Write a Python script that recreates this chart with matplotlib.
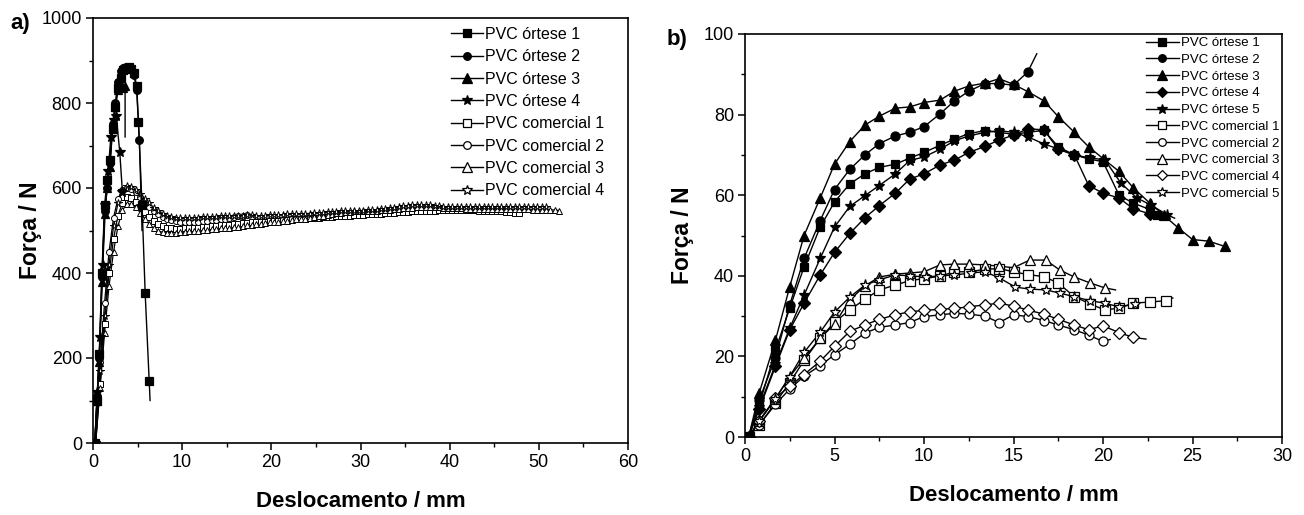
import numpy as np
import matplotlib
matplotlib.use("Agg")
import matplotlib.pyplot as plt
from matplotlib.lines import Line2D
from matplotlib.ticker import MultipleLocator

plt.rcParams['font.family'] = ['Liberation Sans', 'DejaVu Sans']

# ---------------- Panel a data ----------------
a_labels = ["PVC órtese 1", "PVC órtese 2", "PVC órtese 3", "PVC órtese 4",
            "PVC comercial 1", "PVC comercial 2", "PVC comercial 3", "PVC comercial 4"]

a_ort1_x = [0.2, 0.45, 0.7, 1.0, 1.3, 1.6, 1.9, 2.2, 2.5, 2.8, 3.1, 3.4, 3.7, 4.0, 4.3, 4.6, 4.9, 5.1, 5.5, 5.85, 6.3, 6.4]
a_ort1_y = [0, 100, 210, 400, 560, 620, 665, 740, 790, 835, 860, 878, 883, 884, 880, 870, 840, 755, 560, 353, 147, 100]
a_ort2_x = [0.2, 0.45, 0.7, 1.0, 1.3, 1.6, 1.9, 2.2, 2.5, 2.8, 3.1, 3.4, 3.7, 4.0, 4.3, 4.6, 4.9, 5.2, 5.5]
a_ort2_y = [0, 110, 200, 390, 545, 600, 660, 750, 800, 850, 875, 882, 885, 885, 880, 865, 830, 712, 500]
a_ort3_x = [0.2, 0.45, 0.7, 1.0, 1.3, 1.6, 1.9, 2.2, 2.5, 2.8, 3.1, 3.4, 3.6, 3.6]
a_ort3_y = [0, 100, 190, 380, 540, 600, 650, 740, 790, 830, 845, 835, 840, 720]
a_ort4_x = [0.2, 0.5, 0.8, 1.1, 1.4, 1.7, 2.0, 2.3, 2.6, 3.0, 3.3]
a_ort4_y = [0, 120, 250, 420, 560, 640, 720, 760, 770, 685, 590]

# commercial samples: first x and sampling interval (mm)
a_com_x0 = 0.3
a_com_dx = 0.5
a_com1_y = [0, 140, 280, 400, 480, 535, 565, 578, 577, 568,
            556, 543, 532, 522, 515, 510, 507, 505, 504, 504,
            505, 505, 506, 507, 508, 509, 510, 511, 512, 513,
            514, 515, 516, 517, 518, 519, 520, 520, 521, 522,
            523, 523, 524, 525, 526, 526, 527, 528, 529, 529,
            530, 531, 532, 532, 533, 534, 535, 535, 536, 537,
            537, 538, 539, 539, 540, 541, 541, 542, 543, 543,
            544, 545, 545, 546, 546, 547, 547, 548, 548, 548,
            549, 549, 549, 548, 548, 548, 547, 547, 546, 546,
            545, 545, 544, 543, 542, 541]
a_com2_y = [0, 190, 330, 450, 530, 575, 595, 600, 597, 590,
            579, 567, 556, 546, 538, 532, 527, 524, 522, 521,
            520, 520, 521, 521, 522, 523, 524, 525, 526, 528,
            529, 531, 533, 535, 537]
a_com3_y = [0, 130, 260, 370, 450, 510, 548, 562, 562, 555,
            542, 528, 515, 505, 499, 496, 495, 495, 495, 496,
            497, 498, 499, 500, 501, 502, 503, 504, 505, 506,
            507, 508, 509, 510, 512, 513, 515, 516, 518, 519,
            520, 521, 522, 523, 525, 526, 527, 528, 530, 531,
            533, 535, 537, 539, 541, 542, 543, 544, 545, 545,
            546, 546, 547, 547, 548, 548, 549, 550, 551, 552,
            553, 554, 555, 556, 556, 556, 555, 555, 554, 553,
            553, 552, 552, 551, 551, 551, 550, 550, 550, 550,
            550, 550, 550, 550, 550, 550, 550, 550, 549, 549,
            549, 549, 549, 548, 547]
a_com4_y = [0, 170, 300, 420, 510, 565, 595, 605, 603, 596,
            586, 575, 564, 554, 546, 540, 535, 532, 530, 529,
            529, 529, 530, 530, 531, 531, 532, 532, 533, 533,
            534, 534, 535, 535, 536, 536, 535, 535, 535, 536,
            536, 537, 537, 538, 538, 539, 539, 540, 540, 541,
            541, 542, 543, 543, 544, 545, 545, 546, 546, 547,
            547, 548, 548, 549, 550, 551, 552, 553, 555, 557,
            558, 559, 560, 560, 560, 559, 558, 557, 556, 556,
            555, 555, 555, 555, 555, 555, 555, 555, 555, 555,
            555, 555, 555, 555, 555, 555, 555, 555, 555, 555,
            555, 555]

# ---------------- Panel b data ----------------
b_labels = ["PVC órtese 1", "PVC órtese 2", "PVC órtese 3", "PVC órtese 4", "PVC órtese 5",
            "PVC comercial 1", "PVC comercial 2", "PVC comercial 3", "PVC comercial 4", "PVC comercial 5"]

b_ort1_x = [0.2, 0.8, 1.7, 2.5, 3.3, 4.2, 5.0, 5.85, 6.7, 7.5, 8.4, 9.2, 10.0, 10.9, 11.7, 12.5, 13.4, 14.2, 15.0, 15.8, 16.7, 17.5, 18.4, 19.2, 20.0, 20.9, 21.7, 22.6, 23.0]
b_ort1_y = [0, 8, 21.5, 32, 42.2, 52.1, 58.3, 62.8, 65.3, 66.9, 67.7, 69.2, 70.6, 72.4, 73.9, 75.3, 76.0, 75.6, 75.1, 75.6, 76.1, 72.0, 70.0, 69.0, 68.3, 60.0, 58.0, 56.5, 55.0]
b_ort2_x = [0.2, 0.8, 1.7, 2.5, 3.3, 4.2, 5.0, 5.85, 6.7, 7.5, 8.4, 9.2, 10.0, 10.9, 11.7, 12.5, 13.4, 14.2, 15.0, 15.8, 16.3]
b_ort2_y = [0, 9.3, 19.6, 32.8, 44.3, 53.7, 61.4, 66.4, 70.0, 72.8, 74.7, 75.6, 77.0, 80.2, 83.4, 85.8, 87.7, 87.7, 87.3, 90.6, 95.1]
b_ort3_x = [0.2, 0.8, 1.7, 2.5, 3.3, 4.2, 5.0, 5.85, 6.7, 7.5, 8.4, 9.2, 10.0, 10.9, 11.7, 12.5, 13.4, 14.2, 15.0, 15.8, 16.7, 17.5, 18.4, 19.2, 20.0, 20.9, 21.7, 22.6, 23.4, 24.2, 25.0, 25.9, 26.8]
b_ort3_y = [0, 11, 24, 37.3, 50.0, 59.3, 67.7, 73.3, 77.4, 79.6, 81.6, 81.9, 83.0, 83.6, 85.8, 87.1, 87.8, 88.9, 87.5, 85.7, 83.4, 79.5, 75.6, 72.0, 69.1, 65.9, 61.8, 58.1, 55.0, 51.9, 49.0, 48.6, 47.3]
b_ort4_x = [0.2, 0.8, 1.7, 2.5, 3.3, 4.2, 5.0, 5.85, 6.7, 7.5, 8.4, 9.2, 10.0, 10.9, 11.7, 12.5, 13.4, 14.2, 15.0, 15.8, 16.7, 17.5, 18.4, 19.2, 20.0, 20.9, 21.7, 22.6]
b_ort4_y = [0, 7, 17.5, 26.6, 33.2, 40.2, 45.8, 50.5, 54.4, 57.4, 60.5, 64.0, 65.3, 67.5, 68.7, 70.6, 72.1, 73.7, 74.9, 76.5, 76.2, 71.4, 70.0, 62.4, 60.5, 59.3, 56.6, 55.4]
b_ort5_x = [0.2, 0.8, 1.7, 2.5, 3.3, 4.2, 5.0, 5.85, 6.7, 7.5, 8.4, 9.2, 10.0, 10.9, 11.7, 12.5, 13.4, 14.2, 15.0, 15.8, 16.7, 17.5, 18.4, 19.3, 20.1, 21.0, 21.9, 22.7, 23.6, 24.0]
b_ort5_y = [0, 7.5, 18, 27, 35.2, 44.3, 52.1, 57.2, 59.9, 62.4, 65.3, 68.6, 69.5, 71.4, 73.5, 74.7, 75.6, 76.0, 75.6, 74.5, 72.7, 71.5, 70.0, 69.2, 68.8, 63.0, 59.3, 57.5, 55.1, 54.3]

b_com1_x = [0.2, 0.8, 1.7, 2.5, 3.3, 4.2, 5.0, 5.85, 6.7, 7.5, 8.4, 9.2, 10.0, 10.9, 11.7, 12.5, 13.4, 14.2, 15.0, 15.8, 16.7, 17.5, 18.4, 19.3, 20.1, 20.9, 21.7, 22.6, 23.5, 23.9]
b_com1_y = [0, 3, 8.5, 13.5, 19, 24.5, 28.5, 31.5, 34.2, 36.5, 37.7, 38.8, 39.3, 39.9, 41.0, 41.0, 41.6, 41.8, 41.0, 40.3, 39.8, 38.2, 34.8, 33.0, 31.5, 32.0, 33.2, 33.5, 33.8, 34.5]
b_com2_x = [0.2, 0.8, 1.7, 2.5, 3.3, 4.2, 5.0, 5.85, 6.7, 7.5, 8.4, 9.2, 10.0, 10.9, 11.7, 12.5, 13.4, 14.2, 15.0, 15.8, 16.7, 17.5, 18.4, 19.2, 20.0, 20.4]
b_com2_y = [0, 3.1, 8.1, 11.9, 15.1, 17.7, 20.4, 23.0, 25.8, 27.2, 27.8, 28.4, 29.9, 30.3, 30.7, 30.5, 30.0, 28.4, 30.3, 29.9, 28.9, 27.8, 26.6, 25.3, 23.7, 24.2]
b_com3_x = [0.2, 0.8, 1.7, 2.5, 3.3, 4.2, 5.0, 5.85, 6.7, 7.5, 8.4, 9.2, 10.0, 10.9, 11.7, 12.5, 13.4, 14.2, 15.0, 15.9, 16.8, 17.6, 18.4, 19.3, 20.1, 20.7]
b_com3_y = [0, 4, 9.5, 15, 19.5, 24.5, 28, 34, 37.5, 39.7, 40.4, 40.7, 41.0, 42.7, 42.9, 42.9, 42.7, 42.4, 42.0, 43.9, 43.9, 41.4, 39.7, 38.2, 37.0, 36.5]
b_com4_x = [0.2, 0.8, 1.7, 2.5, 3.3, 4.2, 5.0, 5.85, 6.7, 7.5, 8.4, 9.2, 10.0, 10.9, 11.7, 12.5, 13.4, 14.2, 15.0, 15.8, 16.7, 17.5, 18.4, 19.2, 20.0, 20.9, 21.7, 22.4]
b_com4_y = [0, 4, 9.7, 12.6, 15.5, 18.8, 22.5, 26.2, 27.8, 29.2, 30.3, 31.1, 31.4, 31.7, 31.9, 32.3, 32.8, 33.2, 32.5, 31.5, 30.5, 29.2, 27.8, 26.6, 27.6, 25.9, 24.7, 24.3]
b_com5_x = [0.2, 0.8, 1.7, 2.5, 3.3, 4.2, 5.0, 5.85, 6.7, 7.5, 8.4, 9.2, 10.1, 10.9, 11.7, 12.6, 13.4, 14.2, 15.1, 15.9, 16.8, 17.6, 18.4, 19.3, 20.1, 20.9, 21.8]
b_com5_y = [0, 4, 9.5, 15, 21, 26, 31, 34.7, 37.7, 39.0, 40.2, 40.0, 39.7, 40.0, 40.2, 40.7, 41.0, 39.5, 37.2, 36.7, 36.5, 35.7, 34.8, 33.8, 33.2, 32.3, 33.0]

# ---------------- drawing helpers ----------------
def draw(ax, x, y, marker, filled, ms, tail=False, mew=0.9, lw=1.0, z=2):
    x = np.asarray(x, float)
    y = np.asarray(y, float)
    ax.plot(x, y, color='black', lw=lw, zorder=z)
    xm, ym = (x[:-1], y[:-1]) if tail else (x, y)
    ax.plot(xm, ym, ls='none', marker=marker, ms=ms,
            mfc='black' if filled else 'white', mec='black', mew=mew, zorder=z + 0.1)


def proxy(marker, filled, ms):
    return Line2D([], [], color='black', lw=1.0, marker=marker, ms=ms,
                  mfc='black' if filled else 'white', mec='black', mew=0.9)


def style_axes(ax, xmaj, xmin, ymaj, ymin):
    for s in ax.spines.values():
        s.set_linewidth(1.2)
    ax.xaxis.set_major_locator(MultipleLocator(xmaj))
    ax.xaxis.set_minor_locator(MultipleLocator(xmin))
    ax.yaxis.set_major_locator(MultipleLocator(ymaj))
    ax.yaxis.set_minor_locator(MultipleLocator(ymin))
    ax.tick_params(which='major', direction='out', length=5, width=1.1, labelsize=13, pad=3)
    ax.tick_params(which='minor', direction='out', length=3, width=1.0)
    ax.tick_params(top=False, right=False, which='both')


fig = plt.figure(figsize=(13.04, 5.15), dpi=100)
W, H = 1304.0, 515.0
axa = fig.add_axes([93 / W, 1 - 443 / H, 535 / W, 425 / H])
axb = fig.add_axes([745 / W, 1 - 437 / H, 537 / W, 403 / H])

# ---------------- Panel a ----------------
draw(axa, a_com_x0 + a_com_dx * np.arange(len(a_com1_y)), a_com1_y, 's', False, 4.3, mew=0.7, lw=0.9)
draw(axa, a_com_x0 + a_com_dx * np.arange(len(a_com2_y)), a_com2_y, 'o', False, 4.3, mew=0.7, lw=0.9)
draw(axa, a_com_x0 + a_com_dx * np.arange(len(a_com3_y)), a_com3_y, '^', False, 5.0, mew=0.7, lw=0.9)
draw(axa, a_com_x0 + a_com_dx * np.arange(len(a_com4_y)), a_com4_y, '*', False, 5.5, mew=0.7, lw=0.9)
draw(axa, a_ort1_x, a_ort1_y, 's', True, 5.5, tail=True, z=3)
draw(axa, a_ort2_x, a_ort2_y, 'o', True, 5.5, tail=True, z=3)
draw(axa, a_ort3_x, a_ort3_y, '^', True, 6.0, tail=True, z=3)
draw(axa, a_ort4_x, a_ort4_y, '*', True, 7.0, z=3)

axa.set_xlim(0, 60)
axa.set_ylim(0, 1000)
style_axes(axa, 10, 5, 200, 100)
axa.set_xlabel("Deslocamento / mm", fontsize=16, fontweight='bold', labelpad=14)
axa.set_ylabel("Força / N", fontsize=16.5, fontweight='bold', labelpad=0)

a_handles = [proxy('s', True, 5.5), proxy('o', True, 5.5), proxy('^', True, 6.5), proxy('*', True, 7.5),
             proxy('s', False, 5.5), proxy('o', False, 5.5), proxy('^', False, 6.5), proxy('*', False, 7.5)]
axa.legend(a_handles, a_labels, loc='upper left', bbox_to_anchor=(451 / W, 1 - 27 / H),
           bbox_transform=fig.transFigure, frameon=False, fontsize=11.5, handlelength=2.0,
           handletextpad=0.15, labelspacing=0.46, borderpad=0, borderaxespad=0)

# ---------------- Panel b ----------------
draw(axb, b_com1_x, b_com1_y, 's', False, 6.5, tail=True)
draw(axb, b_com2_x, b_com2_y, 'o', False, 6.5, tail=True)
draw(axb, b_com3_x, b_com3_y, '^', False, 7.5, tail=True)
draw(axb, b_com4_x, b_com4_y, 'D', False, 6.0, tail=True)
draw(axb, b_com5_x, b_com5_y, '*', False, 8.0)
draw(axb, b_ort1_x, b_ort1_y, 's', True, 6.0, z=3)
draw(axb, b_ort2_x, b_ort2_y, 'o', True, 6.5, tail=True, z=3)
draw(axb, b_ort3_x, b_ort3_y, '^', True, 7.5, z=3)
draw(axb, b_ort4_x, b_ort4_y, 'D', True, 6.0, z=3)
draw(axb, b_ort5_x, b_ort5_y, '*', True, 8.0, tail=True, z=3)

axb.set_xlim(0, 30)
axb.set_ylim(0, 100)
style_axes(axb, 5, 2.5, 20, 10)
axb.set_xlabel("Deslocamento / mm", fontsize=16, fontweight='bold', labelpad=14)
axb.set_ylabel("Força / N", fontsize=16.5, fontweight='bold', labelpad=7)

b_handles = [proxy('s', True, 5.5), proxy('o', True, 5.5), proxy('^', True, 6.5), proxy('D', True, 5.5), proxy('*', True, 7.5),
             proxy('s', False, 5.5), proxy('o', False, 5.5), proxy('^', False, 6.5), proxy('D', False, 5.5), proxy('*', False, 7.5)]
axb.legend(b_handles, b_labels, loc='upper left', bbox_to_anchor=(1146 / W, 1 - 37 / H),
           bbox_transform=fig.transFigure, frameon=False, fontsize=9.5, handlelength=2.5,
           handletextpad=0.15, labelspacing=0.34, borderpad=0, borderaxespad=0)

fig.text(10 / W, 1 - 24 / H, "a)", fontsize=16, fontweight='bold', va='center', ha='left')
fig.text(667 / W, 1 - 39 / H, "b)", fontsize=16, fontweight='bold', va='center', ha='left')

fig.savefig("out.png", dpi=100)
